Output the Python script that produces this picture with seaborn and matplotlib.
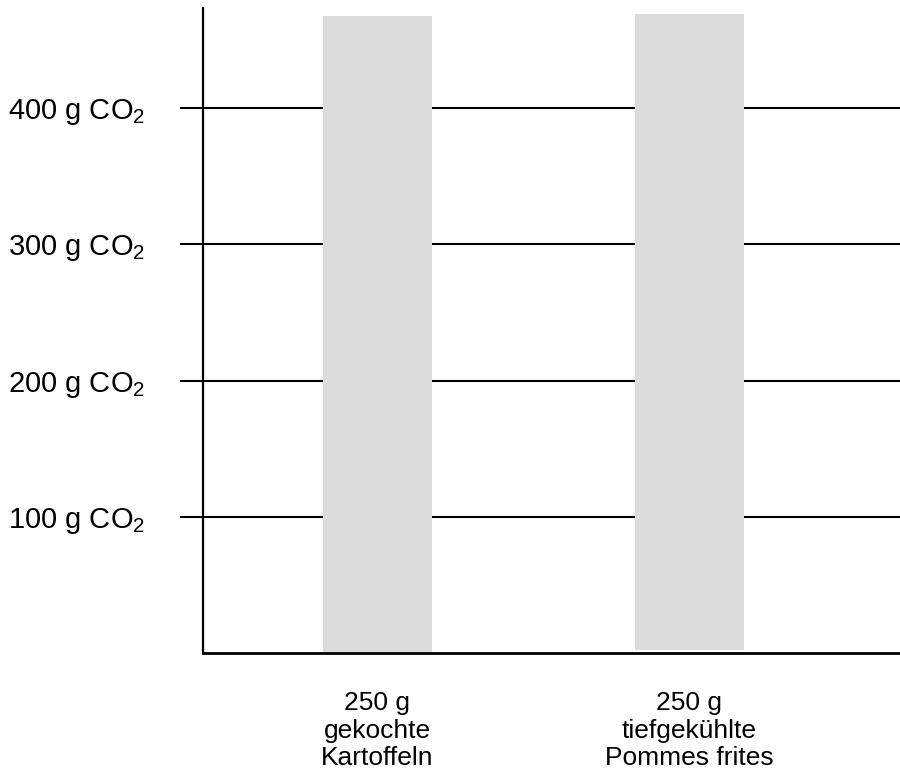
import matplotlib
matplotlib.use("Agg")
import matplotlib.pyplot as plt
import seaborn as sns
import pandas as pd

categories = ["250 g\ngekochte\nKartoffeln", "250 g\ntiefgekühlte\nPommes frites"]
tops = [467.5, 469.0]
bottoms = [0.0, 2.5]
yticks = [100, 200, 300, 400]
ytick_labels = ["100 g CO$_{2}$", "200 g CO$_{2}$", "300 g CO$_{2}$", "400 g CO$_{2}$"]

sns.set_style("white")
plt.rcParams["font.family"] = ["Liberation Sans", "DejaVu Sans"]
plt.rcParams["mathtext.default"] = "regular"
plt.rcParams["mathtext.fontset"] = "custom"
plt.rcParams["mathtext.rm"] = "Liberation Sans"

fig = plt.figure(figsize=(9, 7.82), dpi=100)
ax = fig.add_axes([203 / 900, 128.7 / 782, 697 / 900, 645.3 / 782])

df = pd.DataFrame({"cat": categories, "top": tops})
sns.barplot(data=df, x="cat", y="top", color="#dcdcdc", saturation=1,
            width=0.349, ax=ax, zorder=2)
for patch, t, b in zip(ax.patches, tops, bottoms):
    patch.set_y(b)
    patch.set_height(t - b)
    patch.set_linewidth(0)

ax.set_xlim(-0.559, 1.675)
ax.set_ylim(0, 473.4)
ax.set_yticks(yticks)
ax.set_yticklabels(ytick_labels)
ax.set_xlabel("")
ax.set_ylabel("")

ax.grid(axis="y", color="black", linewidth=1.5, zorder=0)
ax.grid(axis="x", visible=False)
ax.set_axisbelow(True)

for s in ["top", "right"]:
    ax.spines[s].set_visible(False)
ax.spines["left"].set_color("black")
ax.spines["left"].set_linewidth(1.6)
ax.spines["bottom"].set_color("black")
ax.spines["bottom"].set_linewidth(2.0)

ax.tick_params(axis="y", direction="out", length=16.5, width=1.5, color="black",
               pad=25, labelsize=21, labelcolor="black", left=True)
ax.tick_params(axis="x", length=0, pad=27, labelsize=19, labelcolor="black")
for lab in ax.get_xticklabels():
    lab.set_linespacing(1.2)

fig.savefig("out.png", dpi=100)
